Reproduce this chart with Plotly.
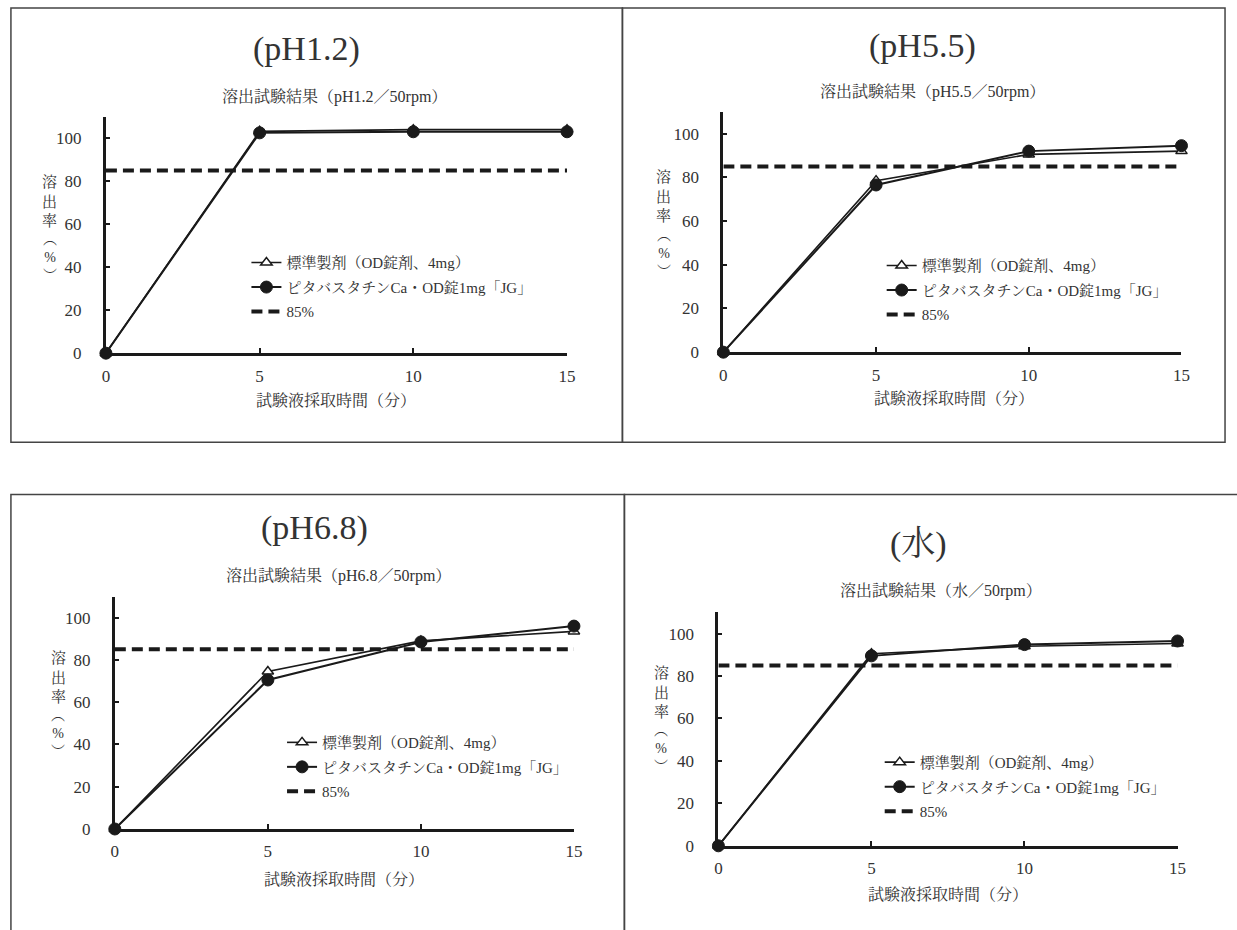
import plotly.graph_objects as go

W, H = 1237, 930

# ---------------- data ----------------
times = [0, 5, 10, 15]
panel_titles = ["(pH1.2)", "(pH5.5)", "(pH6.8)", "(水)"]
sub_titles = ["溶出試験結果（pH1.2／50rpm）", "溶出試験結果（pH5.5／50rpm）",
              "溶出試験結果（pH6.8／50rpm）", "溶出試験結果（水／50rpm）"]
std_ph12 = [0, 103.2, 104.0, 104.0]
jg_ph12 = [0, 102.5, 103.0, 103.0]
std_ph55 = [0, 78.5, 90.5, 92.0]
jg_ph55 = [0, 76.5, 92.0, 94.5]
std_ph68 = [0, 74.5, 89.0, 93.5]
jg_ph68 = [0, 70.5, 88.5, 96.0]
std_water = [0, 90.5, 94.0, 95.3]
jg_water = [0, 89.5, 94.8, 96.5]
limit_x = [0, 15]
limit_y = [85, 85]
std_name = "標準製剤（OD錠剤、4mg）"
jg_name = "ピタバスタチンCa・OD錠1mg「JG」"
limit_name = "85%"
x_title = "試験液採取時間（分）"
y_title_main = "溶<br>出<br>率"
y_title_unit = "︵<br>%<br>︶"
x_ticks = [0, 5, 10, 15]
y_ticks = [0, 20, 40, 60, 80, 100]

std_all = [std_ph12, std_ph55, std_ph68, std_water]
jg_all = [jg_ph12, jg_ph55, jg_ph68, jg_water]

# ---------------- layout geometry (pixels) ----------------
# x0px, x15px, y0px, y110px
plot_px = [
    (103, 569, 357, 118),
    (727, 1190, 356, 113),
    (112, 576, 838, 603),
    (722, 1186, 855, 619),
]
title_pos = [(306, 50), (928, 47), (314, 534), (924, 550)]
sub_pos = [(334, 98), (938, 93), (338, 582), (947, 597)]
xtitle_pos = [(336, 405), (960, 403), (344, 889), (954, 904)]
ylab_pos = [(46, 184), (667, 179), (55, 665), (664, 680)]   # x, y of first char
legend_pos = [(290, 262), (932, 265), (326, 747), (930, 767)]
boxes = [(7, 625, 8, 447), (625, 1234, 8, 447), (7, 627, 500, 960), (627, 1270, 500, 960)]

FONT = "Liberation Serif, 'Noto Serif CJK JP', 'Noto Sans CJK JP', serif"
TXT = "#333333"
AX = "#1a1a1a"


def px(x):
    return x / W


def py(y):
    return 1 - y / H


fig = go.Figure()
layout = dict(
    width=W, height=H, autosize=False,
    margin=dict(l=0, r=0, t=0, b=0, pad=0),
    paper_bgcolor="white", plot_bgcolor="white",
    font=dict(family=FONT, size=15, color=TXT),
    showlegend=True,
    annotations=[], shapes=[],
)


def ann(text, x, y, size, yanchor="middle"):
    return dict(text=text, x=px(x), y=py(y), xref="paper", yref="paper",
                xanchor="center", yanchor=yanchor, showarrow=False,
                font=dict(family=FONT, size=size, color=TXT))


for i in range(4):
    n = i + 1
    xa = "x" if n == 1 else f"x{n}"
    ya = "y" if n == 1 else f"y{n}"
    lg = "legend" if n == 1 else f"legend{n}"
    x0, x15, y0, ytop = plot_px[i]

    fig.add_trace(go.Scatter(
        x=limit_x, y=limit_y, mode="lines", name=limit_name,
        line=dict(color=AX, width=4, dash="11px,6px"),
        xaxis=xa, yaxis=ya, legend=lg, legendgroup=f"c{n}", legendrank=3,
        cliponaxis=False, hoverinfo="skip"))
    fig.add_trace(go.Scatter(
        x=times, y=std_all[i], mode="lines+markers", name=std_name,
        line=dict(color=AX, width=1.6),
        marker=dict(symbol="triangle-up", size=10, color="white",
                    line=dict(color=AX, width=1.5)),
        xaxis=xa, yaxis=ya, legend=lg, legendgroup=f"a{n}", legendrank=1,
        cliponaxis=False))
    fig.add_trace(go.Scatter(
        x=times, y=jg_all[i], mode="lines+markers", name=jg_name,
        line=dict(color=AX, width=2),
        marker=dict(symbol="circle", size=12, color=AX,
                    line=dict(color=AX, width=1)),
        xaxis=xa, yaxis=ya, legend=lg, legendgroup=f"b{n}", legendrank=2,
        cliponaxis=False))

    xkey = "xaxis" if n == 1 else f"xaxis{n}"
    ykey = "yaxis" if n == 1 else f"yaxis{n}"
    layout[xkey] = dict(
        domain=[px(x0), px(x15)], anchor=ya, range=[0, 15],
        tickvals=x_ticks, ticks="inside", ticklen=5, tickwidth=2, tickcolor=AX,
        showline=True, linewidth=3, linecolor=AX, showgrid=False, zeroline=False,
        tickfont=dict(family=FONT, size=17, color=TXT), ticklabelstandoff=5,
        fixedrange=True)
    layout[ykey] = dict(
        domain=[py(y0), py(ytop)], anchor=xa, range=[0, 110],
        tickvals=y_ticks, ticks="inside", ticklen=4, tickwidth=2, tickcolor=AX,
        showline=True, linewidth=3, linecolor=AX, showgrid=False, zeroline=False,
        tickfont=dict(family=FONT, size=17, color=TXT), ticklabelstandoff=18,
        fixedrange=True)

    lx, ly = legend_pos[i]
    layout[lg] = dict(
        x=px(lx - 45), y=py(ly - 13), xanchor="left", yanchor="top",
        bgcolor="rgba(0,0,0,0)", borderwidth=0,
        font=dict(family=FONT, size=15, color=TXT),
        tracegroupgap=2, itemwidth=30)

    tx, ty = title_pos[i]
    layout["annotations"].append(ann(panel_titles[i], tx, ty, 34))
    sx, sy = sub_pos[i]
    layout["annotations"].append(ann(sub_titles[i], sx, sy, 16))
    qx, qy = xtitle_pos[i]
    layout["annotations"].append(ann(x_title, qx, qy, 16))
    vx, vy = ylab_pos[i]
    layout["annotations"].append(ann(y_title_main, vx, vy - 10, 15, yanchor="top"))
    layout["annotations"].append(ann(y_title_unit, vx, vy + 49, 14, yanchor="top"))

    bx0, bx1, by0, by1 = boxes[i]
    layout["shapes"].append(dict(
        type="rect", xref="paper", yref="paper",
        x0=px(bx0), x1=px(bx1), y0=py(by1), y1=py(by0),
        line=dict(color="#444444", width=1.5), layer="below"))

fig.update_layout(**layout)
fig.write_html("out.html",
               config={"displayModeBar": False},
               post_script="document.body.style.margin='0';document.body.style.overflow='hidden';")
